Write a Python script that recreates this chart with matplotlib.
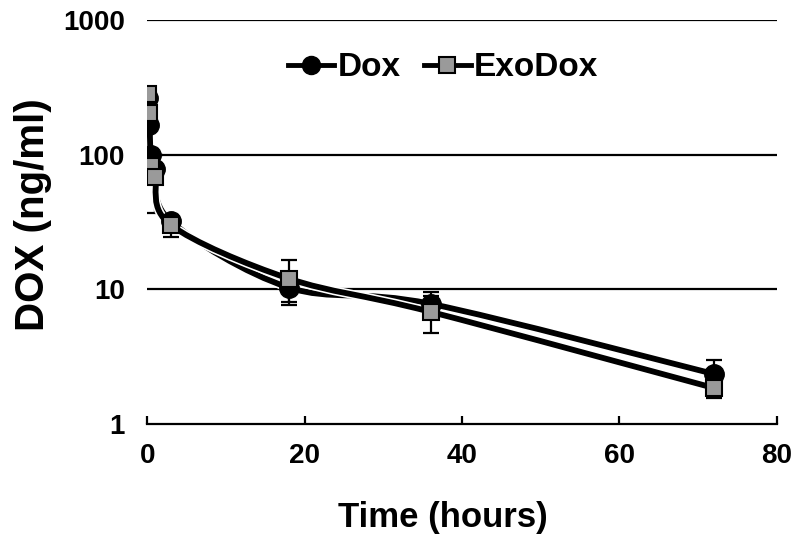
import numpy as np
import matplotlib
matplotlib.use("Agg")
import matplotlib.pyplot as plt
from matplotlib.path import Path
from matplotlib.patches import PathPatch
from matplotlib.lines import Line2D
import matplotlib.patheffects as pe

plt.rcParams['font.family'] = ['Liberation Sans', 'DejaVu Sans']
plt.rcParams['font.weight'] = 'bold'

# Sampling times (hours)
time_h = [0.083, 0.25, 0.5, 1, 3, 18, 36, 72]

# Plasma DOX concentration (ng/ml)
dox_mean = [265, 165, 100, 78, 32, 10.3, 7.8, 2.35]
dox_err = [20, 15, 10, 8, 3, 2.3, 1.7, 0.62]
exodox_mean = [280, 205, 82, 68, 30, 12.0, 6.8, 1.85]
exodox_err = [25, 20, 12, 31, 5.6, 4.4, 2.1, 0.30]

x_ticks = [0, 20, 40, 60, 80]
y_ticks = [1, 10, 100, 1000]
y_tick_labels = ['1', '10', '100', '1000']


def smooth_path(x, y, tension=1.0 / 6):
    """Catmull-Rom style Bezier through the points, built in (x, log10 y) space."""
    x = np.asarray(x, float)
    ly = np.log10(np.asarray(y, float))
    n = len(x)
    verts = [(x[0], ly[0])]
    codes = [Path.MOVETO]
    for i in range(n - 1):
        p0 = np.array([x[max(i - 1, 0)], ly[max(i - 1, 0)]])
        p1 = np.array([x[i], ly[i]])
        p2 = np.array([x[i + 1], ly[i + 1]])
        p3 = np.array([x[min(i + 2, n - 1)], ly[min(i + 2, n - 1)]])
        c1 = p1 + (p2 - p0) * tension
        c2 = p2 - (p3 - p1) * tension
        verts += [tuple(c1), tuple(c2), tuple(p2)]
        codes += [Path.CURVE4] * 3
    verts = [(vx, 10 ** vy) for vx, vy in verts]
    return Path(verts, codes)


fig = plt.figure(figsize=(8, 5.38), dpi=100)
ax = fig.add_axes([0.184, 0.212, 0.787, 0.751])
ax.set_yscale('log')
ax.set_xlim(0, 80)
ax.set_ylim(1, 1000)

for yv in [10, 100, 1000]:
    ax.axhline(yv, color='black', lw=1.6, zorder=1)

outline = [pe.Stroke(linewidth=6.5, foreground='white'), pe.Normal()]
for mean in (dox_mean, exodox_mean):
    patch = PathPatch(smooth_path(time_h, mean), facecolor='none',
                      edgecolor='black', lw=4.2, zorder=3,
                      capstyle='round', joinstyle='round')
    patch.set_path_effects(outline)
    ax.add_patch(patch)

ax.errorbar(time_h, dox_mean, yerr=dox_err, fmt='none', ecolor='black',
            elinewidth=1.6, capsize=6, capthick=1.6, zorder=2)
ax.errorbar(time_h, exodox_mean, yerr=exodox_err, fmt='none', ecolor='black',
            elinewidth=1.6, capsize=6, capthick=1.6, zorder=2)

ax.plot(time_h, dox_mean, 'o', ms=14, mfc='black', mec='black', zorder=4)
ax.plot(time_h, exodox_mean, 's', ms=12, mfc='#9a9a9a', mec='black',
        mew=1.5, zorder=5)

for s in ['left', 'right', 'top']:
    ax.spines[s].set_visible(False)
ax.spines['bottom'].set_linewidth(1.6)
ax.spines['bottom'].set_zorder(1)

ax.set_xticks(x_ticks)
ax.set_xticklabels([str(t) for t in x_ticks])
ax.set_yticks(y_ticks)
ax.set_yticklabels(y_tick_labels)
ax.yaxis.set_minor_locator(matplotlib.ticker.NullLocator())
ax.tick_params(axis='x', direction='in', length=6, width=1.6, pad=14,
               labelsize=20)
ax.tick_params(axis='y', length=0, pad=16, labelsize=20)
for lab in ax.get_xticklabels() + ax.get_yticklabels():
    lab.set_fontweight('bold')

fig.text(443 / 800, 1 - 518 / 538, 'Time (hours)', fontsize=25,
         fontweight='bold', ha='center', va='center')
fig.text(33 / 800, 1 - 215 / 538, 'DOX (ng/ml)', fontsize=29,
         fontweight='bold', ha='center', va='center', rotation=90)

handles = [
    Line2D([], [], color='black', lw=3.5, marker='o', ms=13, mfc='black',
           mec='black'),
    Line2D([], [], color='black', lw=3.5, marker='s', ms=11.5,
           mfc='#9a9a9a', mec='black', mew=1.5),
]
leg = ax.legend(handles, ['Dox', 'ExoDox'], loc='center',
                bbox_to_anchor=((443 - 147) / 630, 1 - (68 - 20) / 404),
                ncol=2, frameon=False,
                handlelength=1.4, handletextpad=0.1, columnspacing=0.7,
                prop={'size': 24, 'weight': 'bold'})

fig.savefig('out.png', dpi=100, facecolor='white')
